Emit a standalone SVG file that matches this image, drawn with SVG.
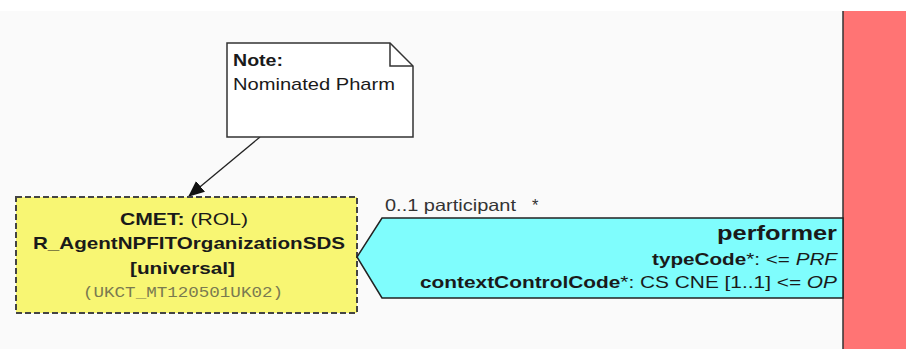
<svg xmlns="http://www.w3.org/2000/svg" width="906" height="349" viewBox="0 0 906 349">
<style>
text{font-family:"Liberation Sans",Arial,sans-serif;fill:#1a1a1a}
.b{font-weight:bold}
.i{font-style:italic}
.mono{font-family:"Liberation Mono","Courier New",monospace;fill:#7a7a50}
.lbl{fill:#333}
</style>
<defs>
<marker id="ah" markerWidth="16" markerHeight="14" refX="15" refY="7" orient="auto" markerUnits="userSpaceOnUse">
<path d="M0,0 L16,7 L0,14 Z" fill="#111"/>
</marker>
</defs>
<rect x="0" y="0" width="906" height="349" fill="#ffffff"/>
<rect x="0" y="11" width="906" height="338" fill="#fafafa"/>
<g id="choice-bar">
<rect x="843" y="11" width="63" height="338" fill="#ff7474"/>
<line x1="843" y1="11" x2="843" y2="349" stroke="#333" stroke-width="1.5"/>
</g>
<g id="connectors">
<line x1="260" y1="137" x2="189" y2="196" stroke="#222" stroke-width="1.3" marker-end="url(#ah)"/>
</g>
<g id="note">
<path d="M227,43 H390 L413,66 V137 H227 Z" fill="#fff" stroke="#333" stroke-width="1.5"/>
<path d="M390,43 V66 H413" fill="none" stroke="#333" stroke-width="1.5"/>
<text x="233" y="66" font-size="17" class="b" textLength="50" lengthAdjust="spacingAndGlyphs">Note:</text>
<text x="233" y="90" font-size="17" textLength="162" lengthAdjust="spacingAndGlyphs">Nominated Pharm</text>
</g>
<g id="cmet">
<rect x="16" y="197" width="341" height="116" fill="#f8f673" stroke="#444" stroke-width="2" stroke-dasharray="6,3"/>
<text x="120" y="225" font-size="17" textLength="128" lengthAdjust="spacingAndGlyphs"><tspan class="b">CMET:</tspan> (ROL)</text>
<text x="33" y="249" font-size="17" class="b" textLength="312" lengthAdjust="spacingAndGlyphs">R_AgentNPFITOrganizationSDS</text>
<text x="130" y="274" font-size="17" class="b" textLength="105" lengthAdjust="spacingAndGlyphs">[universal]</text>
<text x="83" y="297" font-size="14.5" class="mono" textLength="200" lengthAdjust="spacingAndGlyphs">(UKCT_MT120501UK02)</text>
</g>
<g id="performer">
<polygon points="843,218 382,218 357,257 382,298 843,298" fill="#7ffdfd" stroke="#222" stroke-width="1.5"/>
<text x="717" y="240" font-size="20" class="b" textLength="120" lengthAdjust="spacingAndGlyphs">performer</text>
<text x="652" y="265" font-size="16.5" textLength="185" lengthAdjust="spacingAndGlyphs"><tspan class="b">typeCode</tspan>*: &lt;= <tspan class="i">PRF</tspan></text>
<text x="420" y="288" font-size="16.5" textLength="417" lengthAdjust="spacingAndGlyphs"><tspan class="b">contextControlCode</tspan>*: CS CNE [1..1] &lt;= <tspan class="i">OP</tspan></text>
<text x="385" y="211" font-size="16.5" class="lbl" textLength="131" lengthAdjust="spacingAndGlyphs">0..1 participant</text>
<text x="532" y="211" font-size="16.5" class="lbl">*</text>
</g>
</svg>
